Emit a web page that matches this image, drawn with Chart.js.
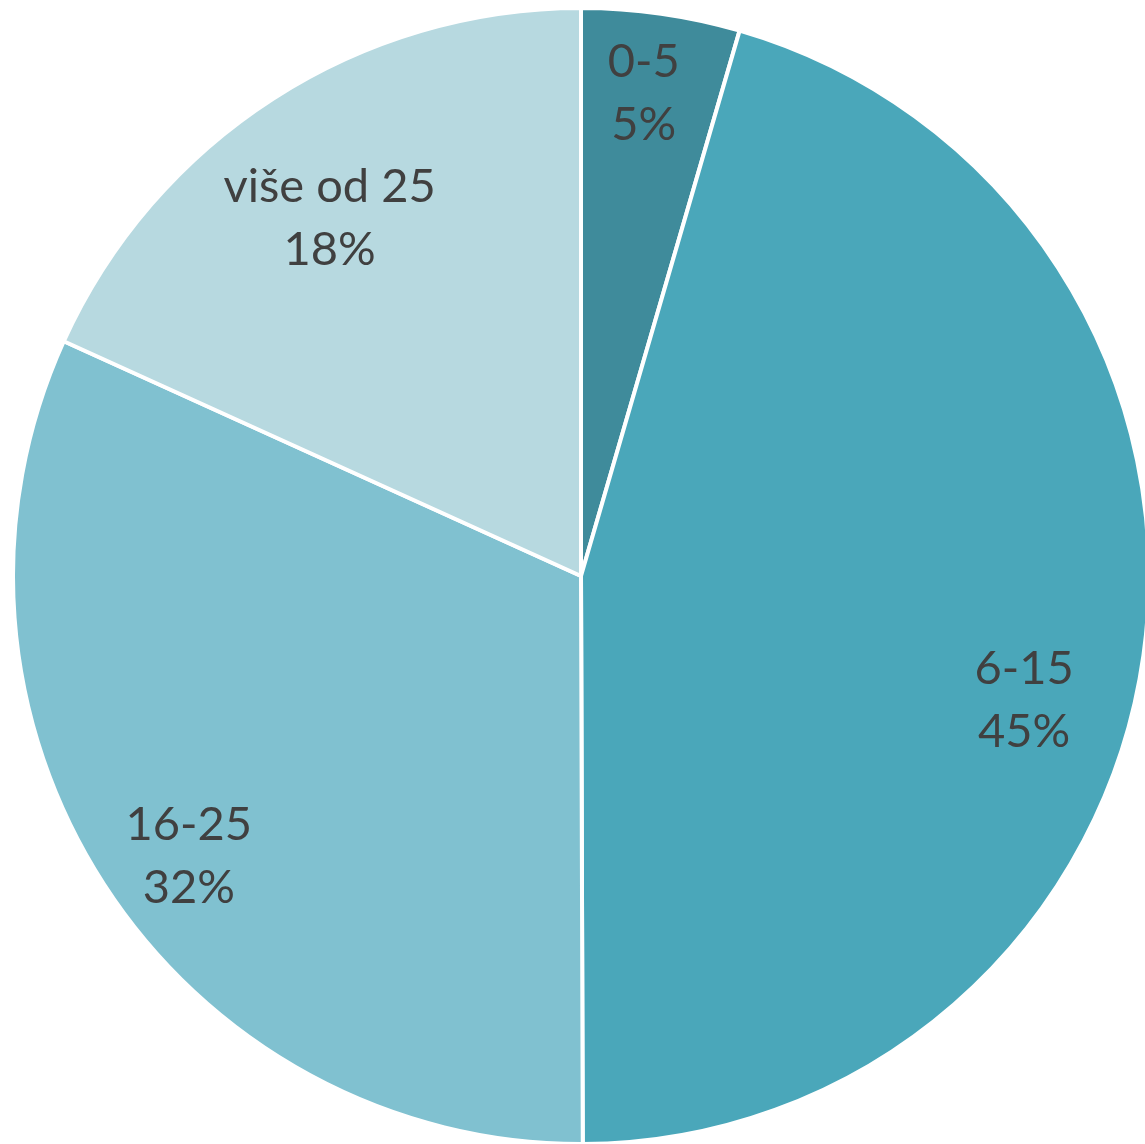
<!DOCTYPE html>
<html>
<head>
<meta charset="utf-8">
<script src="https://cdn.jsdelivr.net/npm/chart.js@4/dist/chart.umd.min.js"></script>
<style>
  html, body { margin: 0; padding: 0; background: #ffffff; overflow: hidden; }
  #wrap { position: relative; width: 1151px; height: 1146px; }
</style>
</head>
<body>
<div id="wrap"><canvas id="c" width="1151" height="1146"></canvas></div>
<script>
// podaci
const categories = ["0-5", "6-15", "16-25", "više od 25"];
const shares = [4.5, 45.4, 31.8, 18.2];
const sliceColors = ["#3F8B9B", "#4AA7BA", "#80C1D0", "#B7D9E0"];

// smještaj oznaka: udio polumjera i pomak kuta (stupnjevi)
const labelDistance = [0.857, 0.81, 0.848, 0.77];
const labelAngleShift = [-0.7, 7.6, -2.6, -2.3];

const total = shares.reduce((a, b) => a + b, 0);

// crta naziv kategorije i postotak unutar isječka
const sliceLabels = {
  id: "sliceLabels",
  afterDatasetsDraw(chart) {
    const ctx = chart.ctx;
    const meta = chart.getDatasetMeta(0);
    ctx.save();
    ctx.fillStyle = "#404040";
    ctx.font = "47px Lato, 'Open Sans', sans-serif";
    ctx.textAlign = "center";
    ctx.textBaseline = "middle";
    meta.data.forEach((arc, i) => {
      const mid = (arc.startAngle + arc.endAngle) / 2 + labelAngleShift[i] * Math.PI / 180;
      const r = arc.outerRadius * labelDistance[i];
      const x = arc.x + Math.cos(mid) * r;
      const y = arc.y + Math.sin(mid) * r;
      const pct = Math.round((shares[i] / total) * 100) + "%";
      ctx.fillText(categories[i], x, y - 31);
      ctx.fillText(pct, x, y + 32);
    });
    ctx.restore();
  },
};

new Chart(document.getElementById("c").getContext("2d"), {
  type: "pie",
  data: {
    labels: categories,
    datasets: [
      {
        data: shares,
        backgroundColor: sliceColors,
        borderColor: "#ffffff",
        borderWidth: 4,
      },
    ],
  },
  options: {
    responsive: false,
    maintainAspectRatio: false,
    animation: false,
    layout: { padding: { left: 11, top: 6, right: 0, bottom: 0 } },
    plugins: {
      legend: { display: false },
      tooltip: { enabled: false },
    },
  },
  plugins: [sliceLabels],
});
</script>
</body>
</html>
